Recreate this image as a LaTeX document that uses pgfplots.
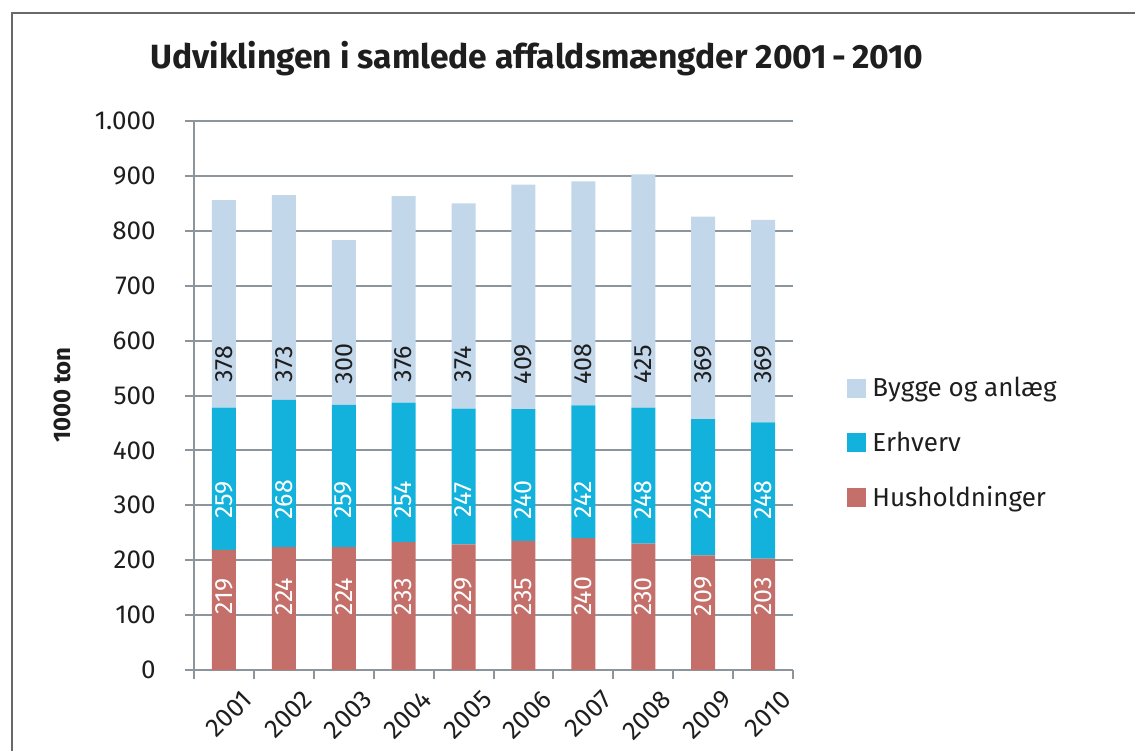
\documentclass[border=0pt]{standalone}
\usepackage{fontspec}
\setmainfont{Fira Sans}
\usepackage{pgfplots}
\pgfplotsset{compat=1.18}
\usepackage{pgfplotstable}

\definecolor{bygge}{RGB}{194,215,234}
\definecolor{erhverv}{RGB}{18,178,220}
\definecolor{hush}{RGB}{196,111,106}
\definecolor{gridgray}{RGB}{140,149,156}
\definecolor{framegray}{RGB}{105,105,105}
\definecolor{txt}{RGB}{30,30,30}

\pgfplotstableread{
x hus erh byg
0 219 259 378
1 224 268 373
2 224 259 300
3 233 254 376
4 229 247 374
5 235 240 409
6 240 242 408
7 230 248 425
8 209 248 369
9 203 248 369
}\data

\begin{document}
\begin{tikzpicture}
\useasboundingbox (0,0) rectangle (567.5pt,375.5pt);
\draw[framegray, line width=1pt] (6pt,0) -- (6pt,369pt) -- (567.5pt,369pt);
\node[anchor=base, text=txt, font=\bfseries\fontsize{16.8}{20}\selectfont] at (268.5pt,341pt) {Udviklingen i samlede affaldsmængder 2001\thinspace-\thinspace2010};
\node[rotate=90, text=txt, font=\bfseries\fontsize{12}{14}\selectfont] at (31pt,178pt) {1000 ton};

\begin{axis}[
  at={(97pt,40.5pt)}, anchor=south west,
  scale only axis, width=299.5pt, height=274.5pt,
  xmin=-0.5, xmax=9.5, ymin=0, ymax=1000,
  ybar stacked, bar width=12pt,
  axis x line*=bottom, axis y line*=left,
  axis line style={gridgray, line width=1pt, -},
  ytick={0,100,...,1000},
  ymajorgrids, grid style={gridgray, line width=1pt},
  xtick={0,1,...,9},
  xticklabels={2001,2002,2003,2004,2005,2006,2007,2008,2009,2010},
  minor xtick={-0.5,0.5,...,9.5},
  major x tick style={draw=none},
  minor x tick style={gridgray, line width=1pt},
  tick align=outside, major tick length=4.5pt, minor tick length=4.5pt,
  tick style={gridgray, line width=1pt},
  tick label style={text=txt, font=\fontsize{13}{15}\selectfont},
  xticklabel style={xshift=12pt, yshift=-8pt, rotate=45, anchor=east, inner sep=0pt},
  /pgf/number format/assume math mode=true,
  /pgf/number format/1000 sep={.},
  yticklabel style={anchor=east, inner sep=0pt, xshift=-14.5pt},
  reverse legend,
  legend style={at={(1,0.413)}, anchor=west, xshift=27pt, draw=none, fill=none,
     font=\fontsize{13}{15}\selectfont, text=txt, row sep=10pt, inner sep=0pt,
     nodes={inner sep=3pt}},
  legend cell align=left,
  legend image code/.code={\fill[#1] (0pt,-4.75pt) rectangle (9.5pt,4.75pt);},
]
\addplot[fill=hush, draw=none] table[x=x,y=hus]{\data};
\addlegendentry{Husholdninger}
\addplot[fill=erhverv, draw=none] table[x=x,y=erh]{\data};
\addlegendentry{Erhverv}
\addplot[fill=bygge, draw=none] table[x=x,y=byg]{\data};
\addlegendentry{Bygge og anlæg}
\end{axis}

\begin{axis}[
  at={(97pt,40.5pt)}, anchor=south west,
  scale only axis, width=299.5pt, height=274.5pt,
  xmin=-0.5, xmax=9.5, ymin=0, ymax=1000,
  hide axis, clip=false,
  nodes near coords, point meta=explicit symbolic,
  every node near coord/.append style={rotate=90, anchor=center, inner sep=0pt,
     font=\fontsize{12.5}{14}\selectfont},
]
\addplot[only marks, mark=*, mark size=0pt, mark options={draw=none, fill=none},
  every node near coord/.append style={text=white}]
  coordinates {(0,134)[219] (1,134)[224] (2,134)[224] (3,134)[233] (4,134)[229]
               (5,134)[235] (6,134)[240] (7,134)[230] (8,134)[209] (9,134)[203]};
\addplot[only marks, mark=*, mark size=0pt, mark options={draw=none, fill=none},
  every node near coord/.append style={text=white}]
  coordinates {(0,310)[259] (1,310)[268] (2,310)[259] (3,310)[254] (4,310)[247]
               (5,310)[240] (6,310)[242] (7,310)[248] (8,310)[248] (9,310)[248]};
\addplot[only marks, mark=*, mark size=0pt, mark options={draw=none, fill=none},
  every node near coord/.append style={text=txt}]
  coordinates {(0,557)[378] (1,557)[373] (2,557)[300] (3,557)[376] (4,557)[374]
               (5,557)[409] (6,557)[408] (7,557)[425] (8,557)[369] (9,557)[369]};
\end{axis}
\end{tikzpicture}
\end{document}
